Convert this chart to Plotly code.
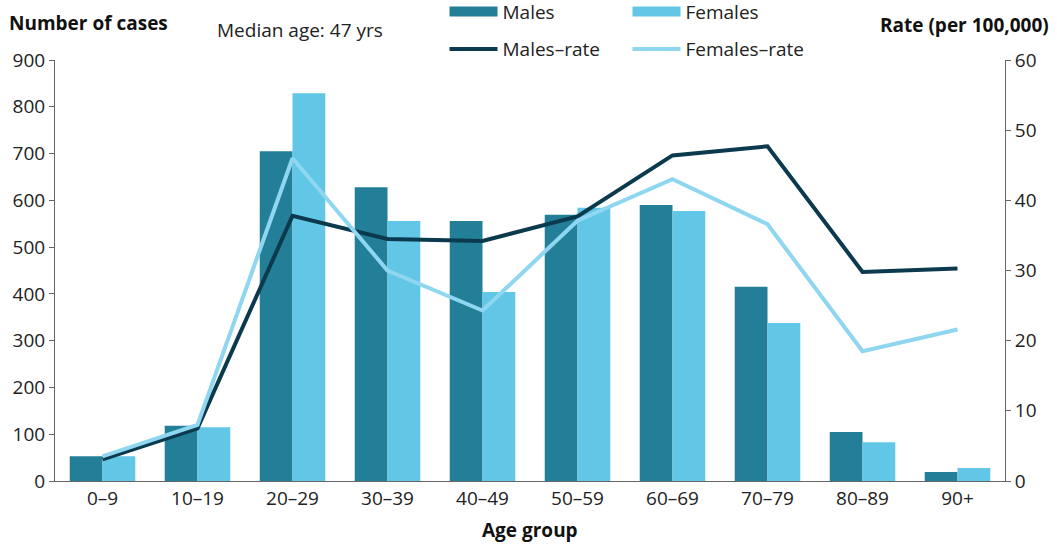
import plotly.graph_objects as go

age_groups = ["0–9", "10–19", "20–29", "30–39", "40–49", "50–59", "60–69", "70–79", "80–89", "90+"]
males_cases = [53, 118, 705, 628, 556, 569, 590, 415, 105, 19]
females_cases = [53, 115, 829, 556, 404, 584, 577, 338, 83, 28]
males_rate = [3.1, 7.5, 37.8, 34.5, 34.2, 37.7, 46.4, 47.7, 29.8, 30.3]
females_rate = [3.5, 8.0, 46.0, 30.0, 24.3, 37.1, 43.0, 36.6, 18.5, 21.6]

C_M = "#237f97"
C_F = "#62c6e7"
C_MR = "#0b3a4e"
C_FR = "#8fd6f0"
FONT = "Open Sans"
FS = 19

fig = go.Figure()
fig.add_trace(go.Bar(x=age_groups, y=males_cases, name="Males", marker_color=C_M,
                     marker_line_width=0, showlegend=False))
fig.add_trace(go.Bar(x=age_groups, y=females_cases, name="Females", marker_color=C_F,
                     marker_line_width=0, showlegend=False))
fig.add_trace(go.Scatter(x=age_groups, y=males_rate, name="Males–rate", mode="lines",
                         line=dict(color=C_MR, width=4), yaxis="y2", legend="legend2"))
fig.add_trace(go.Scatter(x=age_groups, y=females_rate, name="Females–rate", mode="lines",
                         line=dict(color=C_FR, width=4), yaxis="y2", legend="legend2"))
# legend-only swatches for the bars (wide rectangles as in the reference)
fig.add_trace(go.Scatter(x=[None], y=[None], name="Males", mode="lines",
                         line=dict(color=C_M, width=10), legend="legend", hoverinfo="skip"))
fig.add_trace(go.Scatter(x=[None], y=[None], name="Females", mode="lines",
                         line=dict(color=C_F, width=10), legend="legend", hoverinfo="skip"))

axis_common = dict(showline=True, linecolor="#666", linewidth=1, showgrid=False,
                   zeroline=False, tickfont=dict(family=FONT, size=FS, color="#222"))

legend_common = dict(orientation="h", xref="paper", yref="paper", x=0.410,
                     xanchor="left", yanchor="top", entrywidth=120, entrywidthmode="pixels",
                     itemwidth=48,
                     font=dict(family=FONT, size=FS, color="#222"), bgcolor="rgba(0,0,0,0)")

fig.update_layout(
    width=1057, height=545,
    margin=dict(l=55, r=52, t=60, b=64, autoexpand=False),
    plot_bgcolor="white", paper_bgcolor="white",
    barmode="group", bargap=0.31, bargroupgap=0,
    font=dict(family=FONT, size=FS, color="#222"),
    xaxis=dict(**axis_common, ticks="", range=[-0.5, 9.5]),
    yaxis=dict(**axis_common, range=[0, 900], dtick=100, ticks="outside", ticklen=5,
               tickcolor="#666"),
    yaxis2=dict(**axis_common, range=[0, 60], dtick=10, ticks="outside", ticklen=5,
                tickcolor="#666", overlaying="y", side="right"),
    legend=dict(**legend_common, y=1.160),
    legend2=dict(**legend_common, y=1.071),
    annotations=[
        dict(text="<b>Number of cases</b>", xref="paper", yref="paper", x=-0.0505, y=1.0886,
             xanchor="left", yanchor="middle", showarrow=False,
             font=dict(family=FONT, size=FS, color="#111")),
        dict(text="<b>Rate (per 100,000)</b>", xref="paper", yref="paper", x=1.0484, y=1.0831,
             xanchor="right", yanchor="middle", showarrow=False,
             font=dict(family=FONT, size=FS, color="#111")),
        dict(text="Median age: 47 yrs", xref="paper", yref="paper", x=0.1684, y=1.0713,
             xanchor="left", yanchor="middle", showarrow=False,
             font=dict(family=FONT, size=FS, color="#222")),
        dict(text="<b>Age group</b>", xref="paper", yref="paper", x=0.5, y=-0.1164,
             xanchor="center", yanchor="middle", showarrow=False,
             font=dict(family=FONT, size=FS, color="#111")),
    ],
)

fig.write_html("out.html", config={"displayModeBar": False},
               post_script="document.body.style.margin='0';")
